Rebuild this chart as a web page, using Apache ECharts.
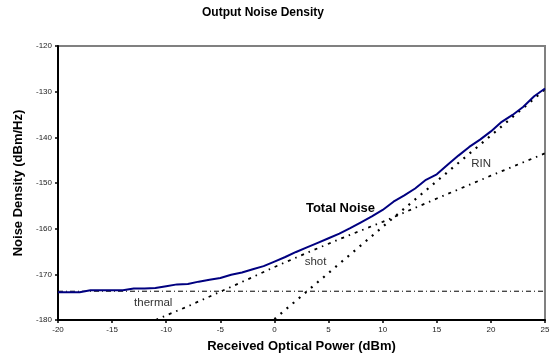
<!DOCTYPE html>
<html>
<head>
<meta charset="utf-8">
<script src="https://cdn.jsdelivr.net/npm/echarts@6/dist/echarts.min.js"></script>
<style>html,body{margin:0;padding:0;background:#fff}#c{width:558px;height:358px}</style>
</head>
<body>
<div id="c"></div>
<script>
// Received optical power (dBm)
const powerX = [-20,-19,-18,-17,-16,-15,-14,-13,-12,-11,-10,-9,-8,-7,-6,-5,-4,-3,-2,-1,0,1,2,3,4,5,6,7,8,9,10,11,12,13,14,15,16,17,18,19,20,21,22,23,24,25];
// Total noise (dBm/Hz)
const totalNoise = [-173.9,-173.9,-173.9,-173.5,-173.5,-173.5,-173.5,-173.1,-173.1,-173.0,-172.6,-172.2,-172.1,-171.6,-171.2,-170.8,-170.1,-169.6,-168.9,-168.2,-167.2,-166.2,-165.1,-164.1,-163.1,-162.1,-161.1,-159.9,-158.6,-157.3,-155.9,-154.1,-152.7,-151.2,-149.3,-148.1,-146.0,-144.0,-142.1,-140.5,-138.7,-136.6,-135.1,-133.3,-131.0,-129.3];
// Thermal noise
const thermalX = [-20, 25];
const thermalY = [-173.7, -173.7];
// Shot noise
const shotX = [-11,-8,-5,-2,0,3,6,10,15,20,25];
const shotY = [-180,-177,-173.8,-170.6,-168.4,-165.3,-162.3,-158.5,-153.4,-148.4,-143.5];
// RIN
const rinX = [0,5,10,15,20,25];
const rinY = [-179.8,-169.7,-159.6,-149.6,-139.6,-129.5];
// Axis ticks
const xTicks = [-20,-15,-10,-5,0,5,10,15,20,25];
const yTicks = [-180,-170,-160,-150,-140,-130,-120];

const zip = (a, b) => a.map((v, i) => [v, b[i]]);
const FONT = 'Liberation Sans, Arial, sans-serif';

function lbl(text, coord, opts) {
  return {
    symbol: 'circle', symbolSize: 1, silent: true,
    itemStyle: {color: 'rgba(0,0,0,0)'},
    data: [{coord: coord, value: text}],
    label: Object.assign({show: true, position: 'inside', formatter: text, fontFamily: FONT, color: '#333', fontSize: 11.5}, opts || {})
  };
}

const chart = echarts.init(document.getElementById('c'), null, {renderer: 'canvas'});
chart.setOption({
  animation: false,
  backgroundColor: '#fff',
  title: {
    text: 'Output Noise Density', left: 202, top: 7, padding: 0,
    textStyle: {fontFamily: FONT, fontSize: 12, fontWeight: 'bold', color: '#000'}
  },
  grid: {left: 58, right: 13, top: 46, bottom: 38, show: true, borderColor: '#808080', borderWidth: 2, backgroundColor: 'transparent'},
  xAxis: {
    type: 'value', min: -20, max: 25, interval: 5,
    name: 'Received Optical Power (dBm)', nameLocation: 'middle', nameGap: 20,
    nameTextStyle: {fontFamily: FONT, fontSize: 13, fontWeight: 'bold', color: '#000'},
    axisLine: {show: true, onZero: false, lineStyle: {color: '#000', width: 2}},
    axisTick: {show: true, length: 3, lineStyle: {color: '#000', width: 1.5}},
    axisLabel: {fontFamily: FONT, fontSize: 8, color: '#222', margin: 6,
      formatter: v => xTicks.includes(v) ? String(v) : ''},
    splitLine: {show: false}
  },
  yAxis: {
    type: 'value', min: -180, max: -120, interval: 10,
    name: 'Noise Density (dBm/Hz)', nameLocation: 'middle', nameGap: 23,
    nameTextStyle: {fontFamily: FONT, fontSize: 13, fontWeight: 'bold', color: '#000'},
    axisLine: {show: true, onZero: false, lineStyle: {color: '#000', width: 2}},
    axisTick: {show: true, length: 3, lineStyle: {color: '#000', width: 1.5}},
    axisLabel: {fontFamily: FONT, fontSize: 8, color: '#222', margin: 6,
      formatter: v => yTicks.includes(v) ? String(v) : ''},
    splitLine: {show: false}
  },
  series: [
    {
      name: 'thermal', type: 'line', symbol: 'none', data: zip(thermalX, thermalY),
      lineStyle: {color: '#000', width: 1, type: [5, 3, 1, 3]},
      markPoint: lbl('thermal', [-11.2, -176.2])
    },
    {
      name: 'shot', type: 'line', symbol: 'none', data: zip(shotX, shotY),
      lineStyle: {color: '#000', width: 1.8, type: [3, 5, 1.5, 5]},
      markPoint: lbl('shot', [3.8, -167.3])
    },
    {
      name: 'RIN', type: 'line', symbol: 'none', data: zip(rinX, rinY),
      lineStyle: {color: '#000', width: 2.2, type: [2, 6]},
      markPoint: lbl('RIN', [19.1, -145.8])
    },
    {
      name: 'Total Noise', type: 'line', symbol: 'none', data: zip(powerX, totalNoise),
      lineStyle: {color: '#000080', width: 2},
      markPoint: lbl('Total Noise', [6.1, -155.6], {fontSize: 13, fontWeight: 'bold', color: '#000'})
    }
  ]
});
</script>
</body>
</html>
